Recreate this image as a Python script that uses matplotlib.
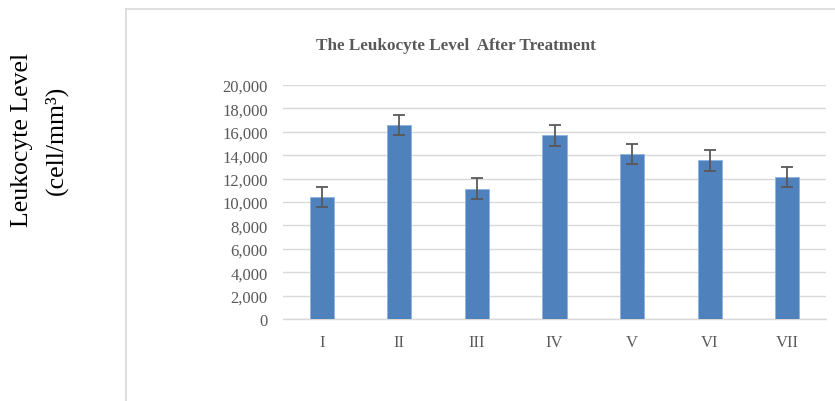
import matplotlib
matplotlib.use("Agg")
import matplotlib.pyplot as plt
from matplotlib.lines import Line2D
from matplotlib.ticker import FuncFormatter

categories = ["I", "II", "III", "IV", "V", "VI", "VII"]
values = [10400, 16600, 11150, 15700, 14100, 13550, 12150]
errors = [850, 870, 880, 880, 870, 860, 860]
yticks = [0, 2000, 4000, 6000, 8000, 10000, 12000, 14000, 16000, 18000, 20000]

W, H = 835, 402
fig = plt.figure(figsize=(W / 100, H / 100), dpi=100)
serif = ["Liberation Serif", "DejaVu Serif"]

ax = fig.add_axes([283 / W, 1 - 320 / H, (826 - 283) / W, (320 - 86) / H])
x = list(range(len(categories)))
ax.bar(x, values, width=0.31, color="#4F81BD", edgecolor="#8EB4E3", linewidth=0.6, zorder=3)
ax.errorbar(x, values, yerr=errors, fmt="none", ecolor="#595959", elinewidth=1.3,
            capsize=4.5, capthick=1.3, zorder=4)

ax.set_xlim(-0.5, len(categories) - 0.5)
ax.set_ylim(0, 20000)
ax.set_yticks(yticks)
ax.yaxis.set_major_formatter(FuncFormatter(lambda v, p: f"{int(v):,}"))
ax.set_xticks(x)
ax.set_xticklabels(categories)
ax.grid(axis="y", color="#D9D9D9", linewidth=1.0, zorder=0)
for s in ["top", "right", "left"]:
    ax.spines[s].set_visible(False)
ax.spines["bottom"].set_color("#D9D9D9")
ax.spines["bottom"].set_linewidth(1.0)
ax.tick_params(axis="both", length=0, colors="#595959", labelsize=12)
ax.tick_params(axis="y", pad=11)
ax.tick_params(axis="x", pad=11)
for lbl in ax.get_xticklabels() + ax.get_yticklabels():
    lbl.set_family(serif)
    lbl.set_color("#595959")

fig.text(456 / W, 1 - 46 / H, "The Leukocyte Level  After Treatment", ha="center", va="center",
         family=serif, fontsize=12.3, fontweight="bold", color="#595959")

fig.text(22 / W, 1 - 140 / H, "Leukocyte Level", rotation=90, ha="center", va="center",
         family=serif, fontsize=18.5, color="black")
fig.text(56 / W, 1 - 140 / H, "(cell/mm³)", rotation=90, ha="center", va="center",
         family=serif, fontsize=18.5, color="black")

fig.add_artist(Line2D([126 / W, 126 / W], [0, 1 - 10 / H], transform=fig.transFigure,
                      color="#D9D9D9", linewidth=1.2))
fig.add_artist(Line2D([126 / W, 1], [1 - 10 / H, 1 - 10 / H], transform=fig.transFigure,
                      color="#D9D9D9", linewidth=1.2))

fig.savefig("out.png", dpi=100)
